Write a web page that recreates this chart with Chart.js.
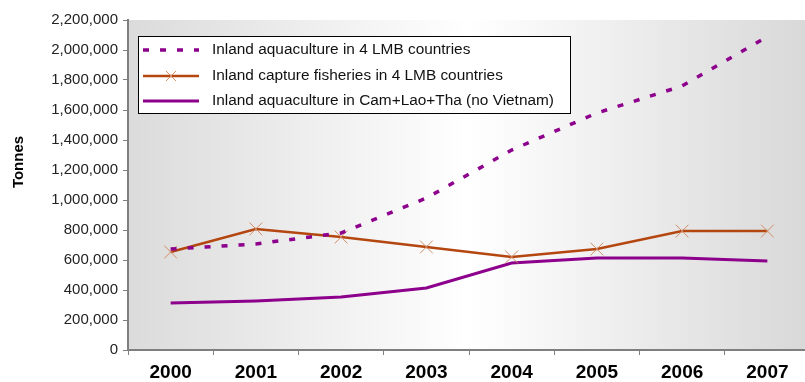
<!DOCTYPE html>
<html>
<head>
<meta charset="utf-8">
<title>Inland fisheries and aquaculture</title>
<script src="https://cdn.jsdelivr.net/npm/chart.js@4.4.1/dist/chart.umd.min.js"></script>
<style>
  html, body { margin: 0; padding: 0; background: #fff; overflow: hidden; }
  #wrap { position: relative; width: 820px; height: 382px; }
</style>
</head>
<body>
<div id="wrap"><canvas id="chart" width="820" height="382"></canvas></div>
<script>
// years along the bottom
const years = ['2000', '2001', '2002', '2003', '2004', '2005', '2006', '2007'];

// tonnes per year
const aquaLMB = [673000, 707000, 780000, 1013000, 1333000, 1580000, 1760000, 2090000];
const captureLMB = [653000, 807000, 753000, 687000, 620000, 673000, 793000, 793000];
const aquaNoVN = [313000, 327000, 353000, 413000, 580000, 613000, 613000, 593000];

const seriesNames = [
  'Inland aquaculture in 4 LMB countries',
  'Inland capture fisheries in 4 LMB countries',
  'Inland aquaculture in Cam+Lao+Tha (no Vietnam)',
];
const yTitle = 'Tonnes';

const PURPLE = '#8c008c';
const RUST = '#b4460f';
const RUST_MARK = '#d38c66';
const FONT = '"Liberation Sans", Arial, sans-serif';

// grey-white-grey wash behind the plot
const plotBackground = {
  id: 'plotBackground',
  beforeDraw(chart) {
    const { ctx, chartArea: a } = chart;
    const g = ctx.createLinearGradient(a.left, 0, a.right, 0);
    g.addColorStop(0, '#dbdbdb');
    g.addColorStop(0.5, '#ffffff');
    g.addColorStop(1, '#d8d8d8');
    ctx.save();
    ctx.fillStyle = g;
    ctx.fillRect(a.left, a.top, a.right - a.left, a.bottom - a.top);
    ctx.restore();
  },
};

// boxed legend in the upper left of the plot + rotated axis title
const boxLegend = {
  id: 'boxLegend',
  afterDraw(chart) {
    const { ctx } = chart;
    const x = 138, y = 36, w = 432, h = 77;
    ctx.save();
    ctx.fillStyle = '#fff';
    ctx.fillRect(x, y, w, h);
    ctx.strokeStyle = '#000';
    ctx.lineWidth = 1;
    ctx.strokeRect(x + 0.5, y + 0.5, w, h);

    const rows = [50, 76, 101];
    chart.data.datasets.forEach((ds, i) => {
      const ry = rows[i];
      ctx.beginPath();
      ctx.setLineDash(ds.borderDash || []);
      ctx.lineWidth = ds.borderWidth;
      ctx.strokeStyle = ds.borderColor;
      ctx.lineCap = 'butt';
      ctx.moveTo(143, ry);
      ctx.lineTo(199, ry);
      ctx.stroke();
      ctx.setLineDash([]);
      if (ds.pointStyle === 'crossRot') {
        const r = 5;
        ctx.beginPath();
        ctx.lineWidth = 1;
        ctx.strokeStyle = ds.pointBorderColor;
        ctx.moveTo(171 - r, ry - r); ctx.lineTo(171 + r, ry + r);
        ctx.moveTo(171 + r, ry - r); ctx.lineTo(171 - r, ry + r);
        ctx.stroke();
      }
      ctx.fillStyle = '#111';
      ctx.font = '15.4px ' + FONT;
      ctx.textBaseline = 'middle';
      ctx.textAlign = 'left';
      ctx.fillText(ds.label, 212, ry);
    });

    ctx.translate(19, 162);
    ctx.rotate(-Math.PI / 2);
    ctx.font = 'bold 15px ' + FONT;
    ctx.fillStyle = '#000';
    ctx.textAlign = 'center';
    ctx.textBaseline = 'middle';
    ctx.fillText(yTitle, 0, 0);
    ctx.restore();
  },
};

new Chart(document.getElementById('chart'), {
  type: 'line',
  data: {
    labels: years,
    datasets: [
      {
        label: seriesNames[0],
        data: aquaLMB,
        borderColor: PURPLE,
        borderWidth: 3.5,
        borderDash: [6, 11],
        borderCapStyle: 'butt',
        pointRadius: 0,
        tension: 0,
        order: 1,
      },
      {
        label: seriesNames[1],
        data: captureLMB,
        borderColor: RUST,
        borderWidth: 2.5,
        pointStyle: 'crossRot',
        pointRadius: 9,
        pointBorderColor: RUST_MARK,
        pointBorderWidth: 1,
        pointBackgroundColor: 'transparent',
        tension: 0,
        order: 2,
      },
      {
        label: seriesNames[2],
        data: aquaNoVN,
        borderColor: PURPLE,
        borderWidth: 3,
        pointRadius: 0,
        tension: 0,
        order: 3,
      },
    ],
  },
  options: {
    responsive: false,
    animation: false,
    devicePixelRatio: 1,
    layout: { padding: { top: 20, right: 5, left: 0, bottom: 0 } },
    plugins: {
      legend: { display: false },
      tooltip: { enabled: false },
    },
    scales: {
      x: {
        offset: true,
        grid: { offset: true, drawOnChartArea: false, tickLength: 5, color: '#7f7f7f', lineWidth: 1 },
        border: { color: '#7f7f7f', width: 2 },
        ticks: { color: '#000', font: { family: FONT, size: 19, weight: 'bold' }, padding: 6, maxRotation: 0, autoSkip: false },
        afterFit(s) { s.height = 32; },
      },
      y: {
        min: 0,
        max: 2200000,
        grid: { drawOnChartArea: false, tickLength: 5, color: '#7f7f7f', lineWidth: 1 },
        border: { color: '#7f7f7f', width: 2 },
        ticks: {
          stepSize: 200000,
          autoSkip: false,
          color: '#222',
          font: { family: FONT, size: 15 },
          padding: 5,
          callback: v => v.toLocaleString('en-US'),
        },
        afterFit(s) { s.width = 128; },
      },
    },
  },
  plugins: [plotBackground, boxLegend],
});
</script>
</body>
</html>
